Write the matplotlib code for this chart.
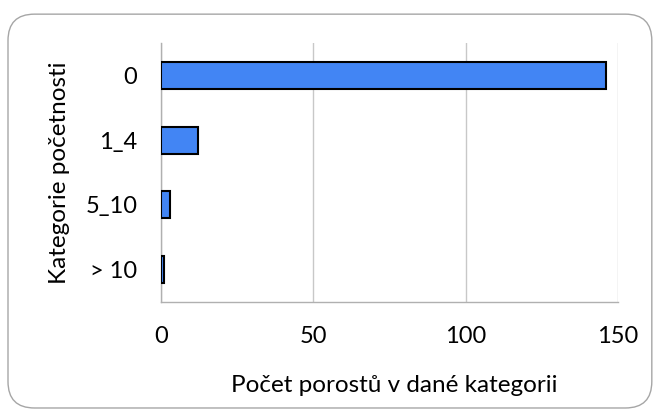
import matplotlib.pyplot as plt
from matplotlib.patches import FancyBboxPatch

categories = ["0", "1_4", "5_10", "> 10"]
counts = [146, 12, 3, 1]
x_ticks = [0, 50, 100, 150]

plt.rcParams['font.family'] = ['Lato', 'DejaVu Sans']

fig = plt.figure(figsize=(6.61, 4.15), dpi=100)

# rounded frame around the whole chart
frame = FancyBboxPatch((0.0121, 0.0169), 0.974, 0.949,
                       boxstyle="round,pad=0,rounding_size=0.04",
                       mutation_aspect=661 / 415,
                       transform=fig.transFigure, facecolor="none",
                       edgecolor="#a6a6a6", linewidth=1.0, zorder=-1)
fig.patches.append(frame)

ax = fig.add_axes([0.2436, 0.2723, 0.6914, 0.6241])
ax.patch.set_alpha(0)

pos = list(range(len(categories)))
ax.barh(pos, counts, height=0.42, color="#4285f4", edgecolor="black",
        linewidth=1.5, zorder=3)

ax.set_ylim(len(categories) - 0.5, -0.5)
ax.set_yticks(pos)
ax.set_yticklabels(categories)
ax.set_xlim(0, 150)
ax.set_xticks(x_ticks)

ax.grid(axis="x", color="#c8c8c8", linewidth=1.0, zorder=0)
for side in ["top", "right"]:
    ax.spines[side].set_visible(False)
for side in ["left", "bottom"]:
    ax.spines[side].set_color("#b0b0b0")
    ax.spines[side].set_linewidth(1.0)

ax.tick_params(axis="both", length=0, labelsize=17, colors="black")
ax.tick_params(axis="y", pad=17)
ax.tick_params(axis="x", pad=17)

ax.set_xlabel("Počet porostů v dané kategorii", fontsize=17.5, va="center")
ax.xaxis.set_label_coords(0.51, -0.322)
ax.set_ylabel("Kategorie početnosti", fontsize=17.5, va="center")
ax.yaxis.set_label_coords(-0.222, 0.5)

fig.savefig("out.png", dpi=100)
